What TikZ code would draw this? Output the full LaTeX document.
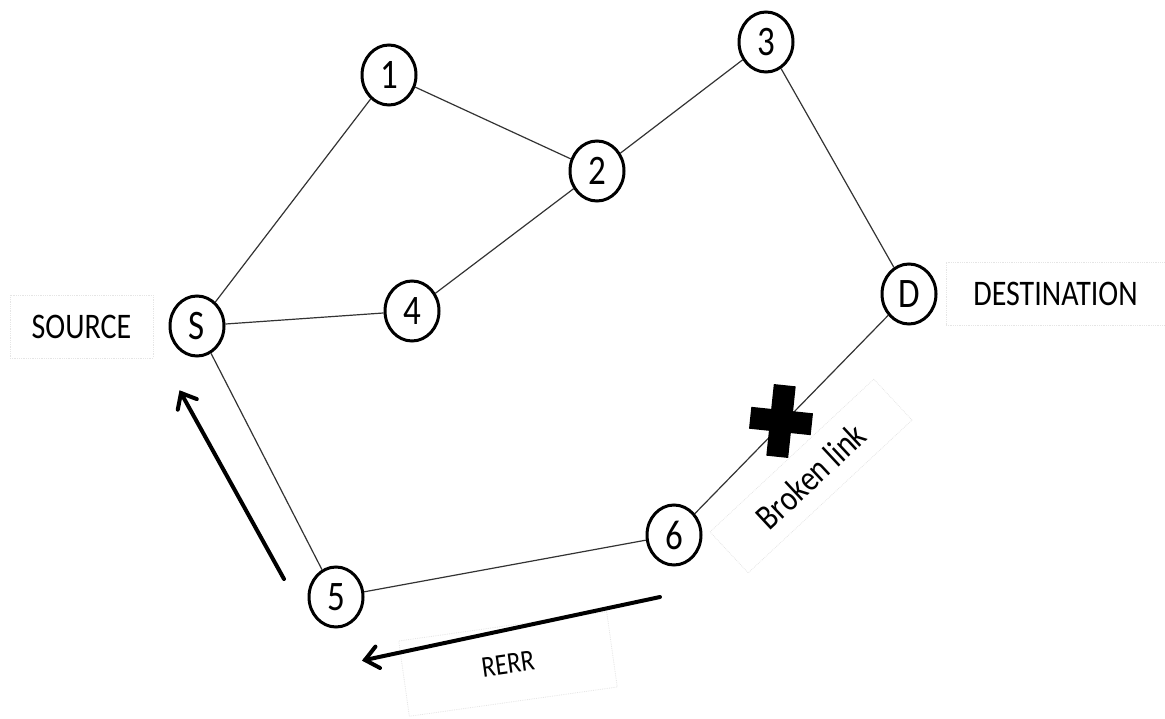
\documentclass[tikz,border=0pt]{standalone}
\usepackage{fontspec}
\usepackage{graphicx}
\setmainfont{Carlito}
\usetikzlibrary{shapes.geometric,calc}
\newcommand\vstr[1]{\scalebox{1}[1.2]{#1}}
\tikzset{
  netnode/.style={ellipse, draw=black, line width=3pt, fill=white, inner sep=0pt,
    minimum width=54pt, minimum height=60pt, font=\fontsize{35}{40}\selectfont},
  link/.style={draw=black!80, line width=1.2pt},
  labelbox/.style={draw=black!10, densely dotted, line width=0.8pt, inner sep=0pt,
    font=\fontsize{30}{36}\selectfont},
  msgarrow/.style={line width=4pt, line cap=round, line join=miter},
}
\begin{document}
\begin{tikzpicture}[x=1pt,y=-1pt]
\useasboundingbox (0,0) rectangle (1165,719);
% label boxes
\node[labelbox, minimum width=143pt, minimum height=63pt] (srcl) at (81.5,326.5) {\vstr{SOURCE}};
\node[labelbox, minimum width=219pt, minimum height=63pt] (dstl) at (1055.5,293.5) {\vstr{DESTINATION}};
\node[labelbox, rotate=43, minimum width=224pt, minimum height=56pt] (brk) at (811,476) {\vstr{Broken link}};
\node[labelbox, rotate=8, minimum width=210pt, minimum height=76pt, font=\fontsize{25}{30}\selectfont] (rerr) at (508,664) {\raisebox{-4pt}{\vstr{RERR}}};
% nodes
\node[netnode] (n1) at (389,75) {\vstr{1}};
\node[netnode] (n2) at (597,171) {\vstr{2}};
\node[netnode] (n3) at (766,42) {\vstr{3}};
\node[netnode] (n4) at (412,311) {\vstr{4}};
\node[netnode] (S) at (197,326) {\vstr{S}};
\node[netnode] (D) at (909,294) {\vstr{D}};
\node[netnode] (n6) at (674,535) {\vstr{6}};
\node[netnode] (n5) at (336,597) {\vstr{5}};
% links
\draw[link] (S) -- (n1);
\draw[link] (n1) -- (n2);
\draw[link] (n2) -- (n3);
\draw[link] (n2) -- (n4);
\draw[link] (S) -- (n4);
\draw[link] (n3) -- (D);
\draw[link] (D) -- (n6);
\draw[link] (n6) -- (n5);
\draw[link] (n5) -- (S);
% broken-link cross
\begin{scope}[shift={(781,421)}, rotate=-6]
\fill[black] (-11,-36) -- (11,-36) -- (11,-11) -- (31,-11) -- (31,11) -- (11,11) -- (11,36) -- (-11,36) -- (-11,11) -- (-31,11) -- (-31,-11) -- (-11,-11) -- cycle;
\end{scope}
% message arrows
\coordinate (a1s) at (284,579);
\coordinate (a1e) at (181,393);
\coordinate (a2s) at (660,597);
\coordinate (a2e) at (365,660);
\draw[msgarrow] (a1s) -- (a1e);
\draw[msgarrow] ($(a1e)!17pt!40:(a1s)$) -- (a1e) -- ($(a1e)!17pt!-40:(a1s)$);
\draw[msgarrow] (a2s) -- (a2e);
\draw[msgarrow] ($(a2e)!17pt!40:(a2s)$) -- (a2e) -- ($(a2e)!17pt!-40:(a2s)$);
\end{tikzpicture}
\end{document}
